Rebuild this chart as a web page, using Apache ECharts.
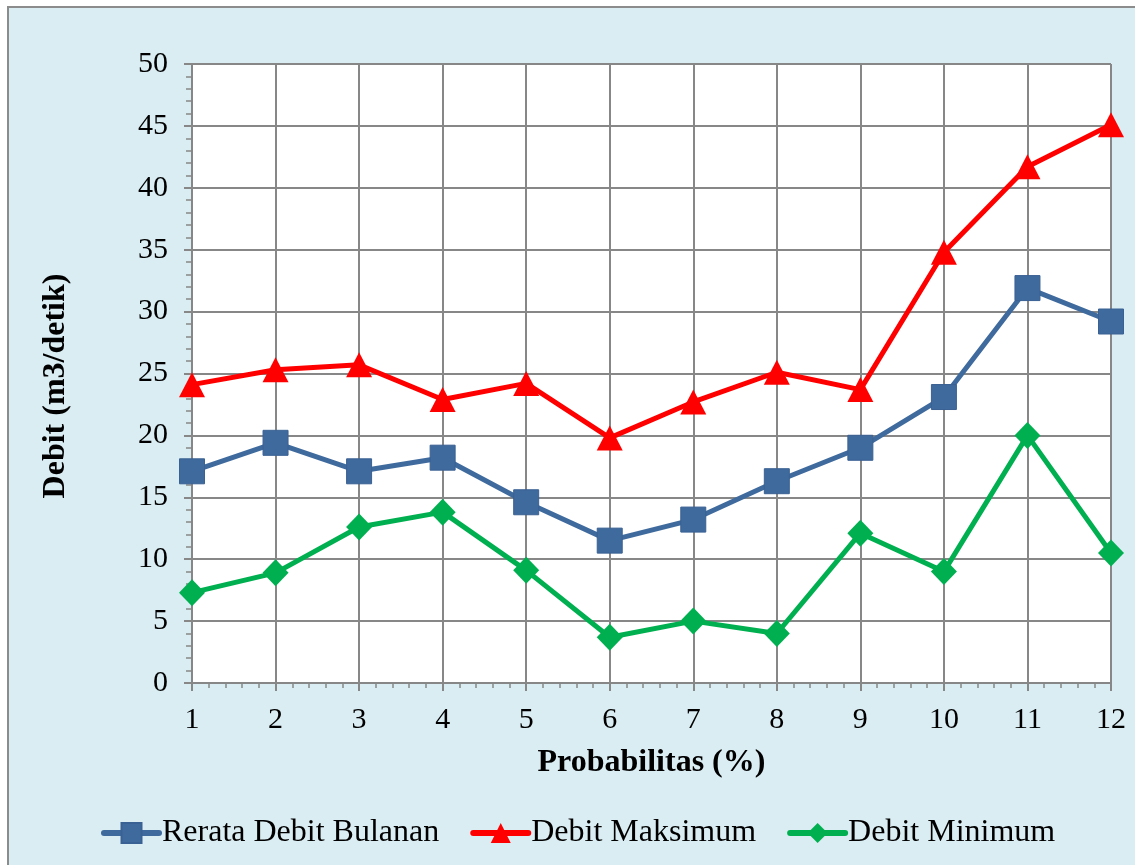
<!DOCTYPE html>
<html>
<head>
<meta charset="utf-8">
<script src="https://cdn.jsdelivr.net/npm/echarts@6/dist/echarts.min.js"></script>
<style>
  html, body { margin: 0; padding: 0; background: #ffffff; }
  #chart { width: 1135px; height: 865px; }
</style>
</head>
<body>
<div id="chart"></div>
<script>
// Probabilitas (%) categories along the x axis
const categories = [1, 2, 3, 4, 5, 6, 7, 8, 9, 10, 11, 12];

// Debit (m3/detik) per series
const rerataDebitBulanan = [17.1, 19.4, 17.1, 18.2, 14.6, 11.5, 13.2, 16.3, 19.0, 23.1, 31.9, 29.2];
const debitMaksimum      = [24.1, 25.3, 25.7, 22.9, 24.2, 19.8, 22.7, 25.1, 23.7, 34.8, 41.7, 45.1];
const debitMinimum       = [7.3, 8.9, 12.6, 13.8, 9.1, 3.7, 5.0, 4.0, 12.1, 9.0, 20.0, 10.5];

const seriesNames = ['Rerata Debit Bulanan', 'Debit Maksimum', 'Debit Minimum'];

const FONT = '"Liberation Serif", "Times New Roman", serif';
const GRID_GRAY = '#878787';

function pairs(values) {
  return categories.map((c, i) => [c, values[i]]);
}

const chart = echarts.init(document.getElementById('chart'), null, { renderer: 'canvas' });

const option = {
  animation: false,
  backgroundColor: '#ffffff',
  graphic: [
    {
      type: 'rect',
      z: -10,
      shape: { x: 8, y: 7, width: 1140, height: 870 },
      style: { fill: '#DAEDF3', stroke: '#8C8C8C', lineWidth: 2 }
    },
    {
      type: 'text',
      x: 56,
      y: 386,
      rotation: Math.PI / 2,
      style: {
        text: 'Debit (m3/detik)',
        font: 'bold 32px ' + FONT,
        fill: '#000',
        align: 'center',
        verticalAlign: 'middle'
      }
    }
  ],
  grid: {
    left: 192,
    top: 64,
    width: 919,
    height: 619,
    show: true,
    backgroundColor: '#ffffff',
    borderWidth: 0
  },
  legend: {
    left: 101,
    top: 817,
    padding: 0,
    itemWidth: 55,
    itemHeight: 25,
    itemGap: 31,
    lineStyle: { width: 6, cap: 'round' },
    textStyle: { fontFamily: FONT, fontSize: 32, color: '#000', padding: [0, 0, 0, -2] },
    data: seriesNames
  },
  xAxis: {
    type: 'value',
    min: 1,
    max: 12,
    interval: 1,
    name: 'Probabilitas (%)',
    nameLocation: 'middle',
    nameGap: 64,
    nameTextStyle: { fontFamily: FONT, fontSize: 32, fontWeight: 'bold', color: '#000' },
    axisLine: { show: true, lineStyle: { color: GRID_GRAY, width: 2 } },
    axisTick: { show: true, length: 8, lineStyle: { color: GRID_GRAY, width: 2 } },
    minorTick: { show: true, splitNumber: 5, length: 5, lineStyle: { color: GRID_GRAY, width: 1.5 } },
    splitLine: { show: true, lineStyle: { color: GRID_GRAY, width: 2 } },
    axisLabel: { fontFamily: FONT, fontSize: 30, color: '#000', margin: 22 }
  },
  yAxis: {
    type: 'value',
    min: 0,
    max: 50,
    interval: 5,
    axisLine: { show: true, lineStyle: { color: GRID_GRAY, width: 2 } },
    axisTick: { show: true, length: 8, lineStyle: { color: GRID_GRAY, width: 2 } },
    minorTick: { show: true, splitNumber: 5, length: 6, lineStyle: { color: GRID_GRAY, width: 1.5 } },
    splitLine: { show: true, lineStyle: { color: GRID_GRAY, width: 2 } },
    axisLabel: { fontFamily: FONT, fontSize: 30, color: '#000', margin: 24 }
  },
  series: [
    {
      name: seriesNames[0],
      type: 'line',
      data: pairs(rerataDebitBulanan),
      symbol: 'rect',
      symbolSize: 25,
      lineStyle: { color: '#3F6A9D', width: 5 },
      itemStyle: { color: '#3F6A9D', borderColor: '#3A6193', borderWidth: 1 },
      z: 2
    },
    {
      name: seriesNames[1],
      type: 'line',
      data: pairs(debitMaksimum),
      symbol: 'triangle',
      symbolSize: [26, 25],
      lineStyle: { color: '#FF0000', width: 5 },
      itemStyle: { color: '#FF0000' },
      z: 3
    },
    {
      name: seriesNames[2],
      type: 'line',
      data: pairs(debitMinimum),
      symbol: 'diamond',
      symbolSize: [26, 27],
      lineStyle: { color: '#00B050', width: 5 },
      itemStyle: { color: '#00B050' },
      z: 4
    }
  ]
};

chart.setOption(option);
</script>
</body>
</html>
